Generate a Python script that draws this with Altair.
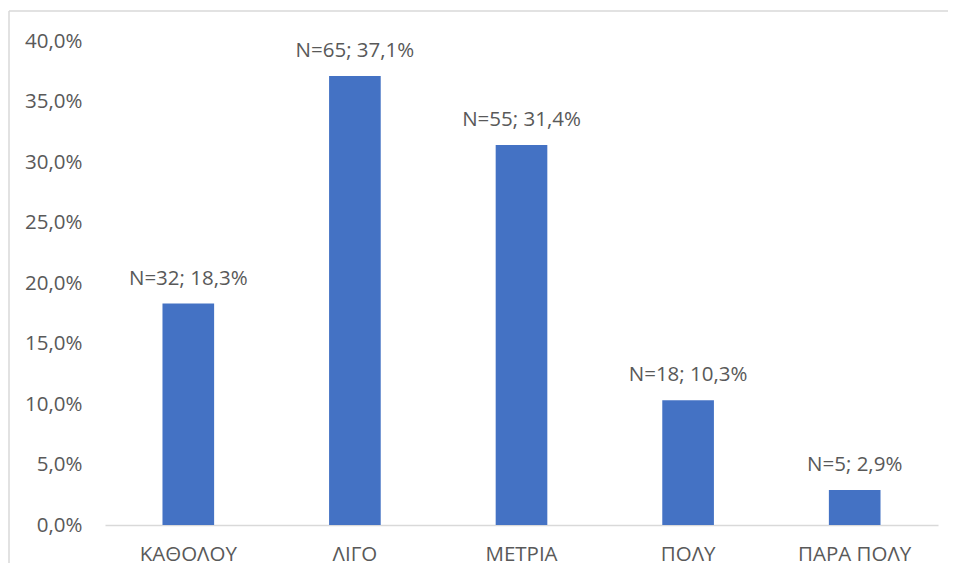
import altair as alt
import pandas as pd

categories = ["ΚΑΘΟΛΟΥ", "ΛΙΓΟ", "ΜΕΤΡΙΑ", "ΠΟΛΥ", "ΠΑΡΑ ΠΟΛΥ"]
counts = [32, 65, 55, 18, 5]
percents = [18.3, 37.1, 31.4, 10.3, 2.9]
y_ticks = [0, 5, 10, 15, 20, 25, 30, 35, 40]

labels = [f"N={n}; {str(p).replace('.', ',')}%" for n, p in zip(counts, percents)]
df = pd.DataFrame({"cat": categories, "pct": percents, "label": labels})

FONT = "Open Sans"
TXT = "#595959"
FS = 20.5
W, H = 833, 484
PAD = {"left": 97, "top": 33, "right": 10, "bottom": 40}

x_enc = alt.X(
    "cat:N",
    sort=categories,
    scale=alt.Scale(paddingInner=0.69, paddingOuter=0.345),
    axis=alt.Axis(
        title=None, labelAngle=0, ticks=False, domainColor="#D9D9D9",
        domainWidth=1.5, labelFont=FONT, labelFontSize=FS, labelColor=TXT,
        labelPadding=19,
    ),
)
y_enc = alt.Y(
    "pct:Q",
    scale=alt.Scale(domain=[0, 40], nice=False),
    axis=alt.Axis(
        title=None, values=y_ticks, grid=False, domain=False, ticks=False,
        labelExpr="replace(format(datum.value, '.1f'), '.', ',') + '%'",
        labelFont=FONT, labelFontSize=FS, labelColor=TXT, labelPadding=23,
    ),
)

base = alt.Chart(df)
bars = base.mark_bar(color="#4472C4").encode(x=x_enc, y=y_enc)
text = base.mark_text(
    baseline="alphabetic", dy=-19, font=FONT, fontSize=FS, color=TXT
).encode(x=alt.X("cat:N", sort=categories), y="pct:Q", text="label:N")

one = pd.DataFrame({"a": [0]})
frame_top = alt.Chart(one).mark_rule(color="#D9D9D9", strokeWidth=1.5).encode(
    x=alt.value(-96), x2=alt.value(W + PAD["right"]), y=alt.value(-30)
)
frame_left = alt.Chart(one).mark_rect(color="#D9D9D9").encode(
    x=alt.value(-96.75), x2=alt.value(-95.25),
    y=alt.value(-30), y2=alt.value(H + PAD["bottom"] - 2),
)

chart = alt.layer(frame_top, frame_left, bars, text).properties(
    width=W, height=H,
    autosize=alt.AutoSizeParams(type="none"),
    padding=PAD,
).configure_view(strokeWidth=0)

chart.save("out.html", embed_options={"renderer": "svg", "actions": False})
